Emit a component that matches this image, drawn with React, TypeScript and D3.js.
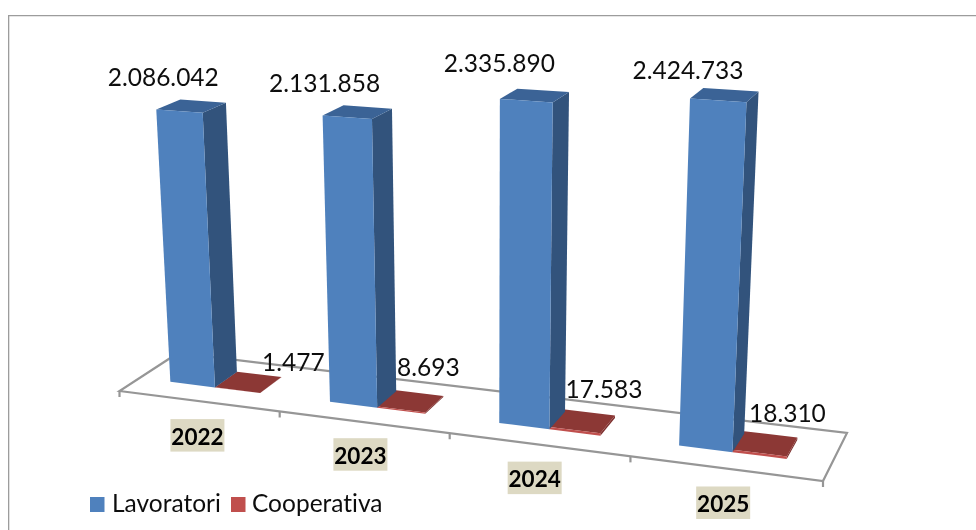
import { useMemo } from 'react';
import { scaleBand, scaleLinear, line } from 'd3';

const years = ['2022', '2023', '2024', '2025'];
const seriesNames = ['Lavoratori', 'Cooperativa'];
const lavoratori = [2086042, 2131858, 2335890, 2424733];
const cooperativa = [1477, 8693, 17583, 18310];
const lavoratoriLabels = ['2.086.042', '2.131.858', '2.335.890', '2.424.733'];
const cooperativaLabels = ['1.477', '8.693', '17.583', '18.310'];

// hand placed labels in the original, offset from the corner of the bar
const bigLabelShift = [[7, -23], [2, -23], [-0.5, -27], [-2, -20]];
const smallLabelShift = [[12, -6], [-15, -20], [-11, -18], [-10, -16]];
const yearLabelShift = [[-1, 34], [-3, 32], [-4, 33], [-2, 34]];

const width = 976;
const height = 530;
const font = 'Lato, "Open Sans", sans-serif';
const axisColor = '#969696';

const blue = { front: '#4f81bd', side: '#30527c', top: '#3a6396' };
const red = { front: '#c0504d', side: '#7d2f2d', top: '#8c3836' };

// floor corners on screen: front left, front right, back right, back left
const floorCorners = [[119.5, 391], [823, 481], [847, 433], [178, 353]];
// verticals of the 3D box meet here
const verticalVanish = [488, 6530];

const getFloorMatrix = (q: number[][]) => {
  const [[x0, y0], [x1, y1], [x2, y2], [x3, y3]] = q;
  const dx1 = x1 - x2;
  const dx2 = x3 - x2;
  const sx = x0 - x1 + x2 - x3;
  const dy1 = y1 - y2;
  const dy2 = y3 - y2;
  const sy = y0 - y1 + y2 - y3;
  const den = dx1 * dy2 - dx2 * dy1;
  const g = (sx * dy2 - dx2 * sy) / den;
  const h = (dx1 * sy - sx * dy1) / den;
  return [
    [x1 - x0 + g * x1, x3 - x0 + h * x3, x0],
    [y1 - y0 + g * y1, y3 - y0 + h * y3, y0],
    [g, h, 1],
  ];
};

const floor = getFloorMatrix(floorCorners);

// u: along the category axis (0..1), v: depth (0..1), t: height
const project = (u: number, v: number, t = 0): [number, number] => {
  const X = floor[0][0] * u + floor[0][1] * v + floor[0][2] + t * verticalVanish[0];
  const Y = floor[1][0] * u + floor[1][1] * v + floor[1][2] + t * verticalVanish[1];
  const W = floor[2][0] * u + floor[2][1] * v + floor[2][2] + t;
  return [X / W, Y / W];
};

const xScale = scaleBand<string>().domain(years).range([0, 1]);
const seriesScale = scaleBand<string>()
  .domain(seriesNames)
  .range([0.2 * xScale.bandwidth(), 0.77 * xScale.bandwidth()]);
const heightScale = scaleLinear().domain([0, 2500000]).range([0, -0.0515]);
const depth = { front: 0.33, back: 0.73 };

const path = line();
const poly = (points: [number, number][]) => `${path(points)}Z`;

const textStyle = { fontVariantLigatures: 'none' };

const Bar = ({ u0, u1, value, colors }: { u0: number; u1: number; value: number; colors: typeof blue }) => {
  const t = heightScale(value);
  const { front, back } = depth;
  return (
    <g>
      <path d={poly([project(u1, front), project(u1, back), project(u1, back, t), project(u1, front, t)])} fill={colors.side} />
      <path d={poly([project(u0, front, t), project(u1, front, t), project(u1, back, t), project(u0, back, t)])} fill={colors.top} />
      <path d={poly([project(u0, front), project(u1, front), project(u1, front, t), project(u0, front, t)])} fill={colors.front} />
    </g>
  );
};

const App = () => {
  const ticks = useMemo(() => [...years.map((y) => xScale(y) as number), 1], []);

  return (
    <svg width={width} height={height} style={{ position: 'absolute', left: 0, top: 0, background: 'white' }}>
      <defs>
        <filter id="soft" x="0" y="0" width="100%" height="100%">
          <feGaussianBlur stdDeviation="0.55" />
        </filter>
      </defs>
      <g filter="url(#soft)">
        <path d={`M8,${height}V15H${width}`} fill="none" stroke="#9c9c9c" strokeWidth={2.6} />

        {/* floor */}
        <path d={poly([project(0, 0), project(1, 0), project(1, 1), project(0, 1)])} fill="white" stroke={axisColor} strokeWidth={2.2} />
        {ticks.map((u) => {
          const [x, y] = project(u, 0);
          return <line key={u} x1={x} x2={x} y1={y} y2={y + 6} stroke={axisColor} strokeWidth={2.2} />;
        })}

        {/* small labels sit behind nothing but over the floor lines */}
        {years.map((year, i) => {
          const u0 = (xScale(year) as number) + (seriesScale('Cooperativa') as number);
          const u1 = u0 + seriesScale.bandwidth();
          const [x, y] = project(u1, depth.back, heightScale(cooperativa[i]));
          return (
            <text key={year} x={x + smallLabelShift[i][0]} y={y + smallLabelShift[i][1]} textAnchor="middle" fontFamily={font} fontSize={24.5} fill="#111" style={textStyle}>
              {cooperativaLabels[i]}
            </text>
          );
        })}

        {/* bars */}
        {years.map((year, i) => {
          const start = xScale(year) as number;
          const blueU = start + (seriesScale('Lavoratori') as number);
          const redU = start + (seriesScale('Cooperativa') as number);
          return (
            <g key={year}>
              <Bar u0={redU} u1={redU + seriesScale.bandwidth()} value={cooperativa[i]} colors={red} />
              <Bar u0={blueU} u1={blueU + seriesScale.bandwidth()} value={lavoratori[i]} colors={blue} />
            </g>
          );
        })}

        {/* top labels */}
        {years.map((year, i) => {
          const u0 = (xScale(year) as number) + (seriesScale('Lavoratori') as number);
          const [x, y] = project(u0, depth.front, heightScale(lavoratori[i]));
          return (
            <text key={year} x={x + bigLabelShift[i][0]} y={y + bigLabelShift[i][1]} textAnchor="middle" fontFamily={font} fontSize={24.5} fill="#111" style={textStyle}>
              {lavoratoriLabels[i]}
            </text>
          );
        })}

        {/* category labels */}
        {years.map((year, i) => {
          const [x, y] = project((xScale(year) as number) + xScale.bandwidth() / 2, 0);
          return (
            <g key={year} transform={`translate(${x + yearLabelShift[i][0]},${y + yearLabelShift[i][1]})`}>
              <rect x={-27} y={-16} width={54} height={32.5} fill="#ddd9c3" />
              <text y={9.5} textAnchor="middle" fontFamily={font} fontWeight={700} fontSize={22.5} fill="#000" style={textStyle}>
                {year}
              </text>
            </g>
          );
        })}

        {/* legend */}
        <rect x={90} y={497} width={14.5} height={15} fill={blue.front} />
        <text x={112} y={512} fontFamily={font} fontSize={24.5} fill="#111" style={textStyle}>
          {seriesNames[0]}
        </text>
        <rect x={231} y={497} width={14.5} height={15} fill={red.front} />
        <text x={252} y={512} fontFamily={font} fontSize={24.5} fill="#111" style={textStyle}>
          {seriesNames[1]}
        </text>
      </g>
    </svg>
  );
};

export default App;
